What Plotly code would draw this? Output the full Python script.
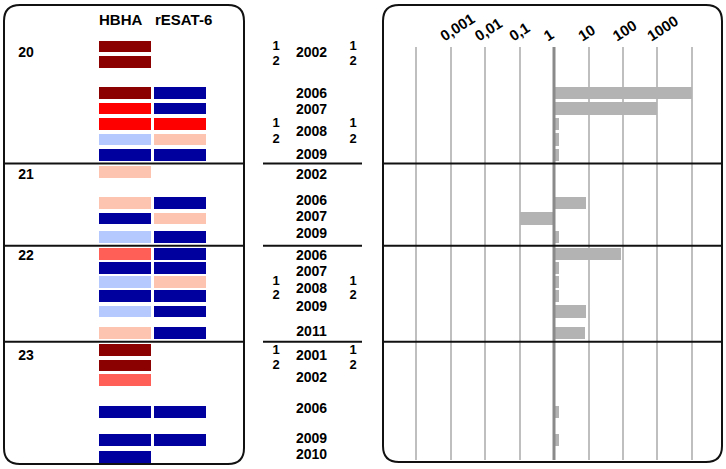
import plotly.graph_objects as go

W, H = 726, 469

# ---------------- data ----------------
row_group = ["20"] * 7 + ["21"] * 4 + ["22"] * 6 + ["23"] * 6
row_year = [2002, 2002, 2006, 2007, 2008, 2008, 2009,
            2002, 2006, 2007, 2009,
            2006, 2007, 2008, 2008, 2009, 2011,
            2001, 2001, 2002, 2006, 2009, 2010]
row_rep = [1, 2, None, None, 1, 2, None,
           None, None, None, None,
           None, None, 1, 2, None, None,
           1, 2, None, None, None, None]
# vertical row slot of each sample (rows are listed top to bottom)
row_pos = [0, 1, 3, 4, 5, 6, 7,
           8.1, 10.1, 11.1, 12.3,
           13.4, 14.3, 15.2, 16.1, 17.1, 18.5,
           19.6, 20.6, 21.5, 23.6, 25.4, 26.5]
hbha_level = ["DR", "DR", "DR", "R", "R", "LB", "DB",
              "P", "P", "DB", "LB",
              "LR", "DB", "LB", "DB", "LB", "P",
              "DR", "DR", "LR", "DB", "DB", "DB"]
resat_level = [None, None, "DB", "DB", "R", "P", "DB",
               None, "DB", "P", "DB",
               "DB", "DB", "P", "DB", "DB", "DB",
               None, None, None, "DB", "DB", None]
fold_change = [None, None, 10000, 1000, 1.4, 1.4, 1.4,
               None, 8.3, 0.1, 1.4,
               85, 1.4, 1.4, 1.4, 8.3, 8,
               None, None, None, 1.4, 1.4, None]
# year labels (one per group/year) and their slot
year_label_group = ["20"] * 5 + ["21"] * 4 + ["22"] * 5 + ["23"] * 5
year_label_text = ["2002", "2006", "2007", "2008", "2009",
                   "2002", "2006", "2007", "2009",
                   "2006", "2007", "2008", "2009", "2011",
                   "2001", "2002", "2006", "2009", "2010"]
year_label_pos = [0.45, 3.1, 4.12, 5.56, 7.03,
                  8.34, 10.03, 11.06, 12.16,
                  13.56, 14.58, 15.65, 16.84, 18.47,
                  19.97, 21.45, 23.45, 25.36, 26.38]
level_colors = {"DR": "#8b0000", "R": "#ff0000", "LR": "#ff5f56",
                "P": "#fdc4b0", "LB": "#b6c9ff", "DB": "#00009e"}
tick_values = [1e-4, 1e-3, 1e-2, 1e-1, 1, 10, 100, 1000, 1e4]
tick_labels = ["", "0,001", "0,01", "0,1", "1", "10", "100", "1000", ""]
columns = ["HBHA", "rESAT-6"]

FONT = "Liberation Sans, Arial, sans-serif"
n = len(row_pos)

fig = go.Figure()

# ---------------- left panel: coloured cells ----------------
fig.add_trace(go.Bar(
    y=row_pos, x=[1] * n, orientation="h", width=0.92,
    marker=dict(color=[level_colors[l] for l in hbha_level],
                line=dict(color="white", width=2.4)),
    xaxis="x", yaxis="y", name=columns[0], hoverinfo="skip"))
fig.add_trace(go.Bar(
    y=row_pos, x=[1 if l else None for l in resat_level], orientation="h", width=0.92,
    marker=dict(color=[level_colors[l] if l else "white" for l in resat_level],
                line=dict(color="white", width=2.4)),
    xaxis="x", yaxis="y", name=columns[1], hoverinfo="skip"))

# ---------------- middle: year / replicate labels ----------------
fig.add_trace(go.Scatter(
    x=[311.5] * len(year_label_text), y=year_label_pos, mode="text",
    text=year_label_text,
    textfont=dict(size=14, family=FONT, color="black", weight="bold"),
    xaxis="x2", yaxis="y", hoverinfo="skip"))
rep_pos = [p for p, r in zip(row_pos, row_rep) if r]
rep_txt = [str(r) for r in row_rep if r]
for xr in (276, 353):
    fig.add_trace(go.Scatter(
        x=[xr] * len(rep_pos), y=rep_pos, mode="text", text=rep_txt,
        textfont=dict(size=13, family=FONT, color="black", weight="bold"),
        xaxis="x2", yaxis="y", hoverinfo="skip"))

# group labels (at the first year label of each group)
groups = []
for g in row_group:
    if g not in groups:
        groups.append(g)
group_pos = [year_label_pos[year_label_group.index(g)] for g in groups]
fig.add_trace(go.Scatter(
    x=[26] * len(groups), y=group_pos, mode="text", text=groups,
    textfont=dict(size=14, family=FONT, color="black", weight="bold"),
    xaxis="x2", yaxis="y", hoverinfo="skip"))

# ---------------- right panel: fold-change bars ----------------
fig.add_trace(go.Bar(
    y=row_pos, x=[v - 1 if v else None for v in fold_change], base=[1] * n,
    orientation="h", width=0.8, marker=dict(color="#b3b3b3", line=dict(width=0)),
    xaxis="x3", yaxis="y2", hoverinfo="skip"))
y2_range = [26.68, 0.032]
fig.add_trace(go.Scatter(
    x=[1, 1], y=[y2_range[1], y2_range[0]], mode="lines",
    line=dict(color="#8a8a8a", width=3), xaxis="x3", yaxis="y2", hoverinfo="skip"))

# ---------------- decorations ----------------
def P(px, py):
    return f"{px / W:.5f},{1 - py / H:.5f}"

def rounded(x0, y0, x1, y1, r):
    return ("M " + P(x0 + r, y0) + " L " + P(x1 - r, y0) + " Q " + P(x1, y0) + " " + P(x1, y0 + r) +
            " L " + P(x1, y1 - r) + " Q " + P(x1, y1) + " " + P(x1 - r, y1) +
            " L " + P(x0 + r, y1) + " Q " + P(x0, y1) + " " + P(x0, y1 - r) +
            " L " + P(x0, y0 + r) + " Q " + P(x0, y0) + " " + P(x0 + r, y0) + " Z")

shapes = [
    dict(type="path", path=rounded(4, 5, 244, 464, 16), xref="paper", yref="paper",
         line=dict(color="#111111", width=2)),
    dict(type="path", path=rounded(383, 5, 722, 462, 16), xref="paper", yref="paper",
         line=dict(color="#111111", width=2)),
]
# separators between groups
for i in range(1, n):
    if row_group[i] != row_group[i - 1]:
        yb = (row_pos[i] + row_pos[i - 1]) / 2
        for xa, xb in ((4, 244), (263, 362), (383, 722)):
            shapes.append(dict(type="line", xref="paper", yref="y", x0=xa / W, x1=xb / W,
                               y0=yb, y1=yb, line=dict(color="#111111", width=2)))

annotations = [
    dict(text="<b>" + columns[0] + "</b>", x=120 / W, y=1 - 20 / H, xref="paper", yref="paper",
         xanchor="center", yanchor="middle",
         showarrow=False, font=dict(size=15, family=FONT, color="black")),
    dict(text="<b>" + columns[1] + "</b>", x=183 / W, y=1 - 20 / H, xref="paper", yref="paper",
         xanchor="center", yanchor="middle",
         showarrow=False, font=dict(size=15, family=FONT, color="black")),
]

fig.update_layout(
    width=W, height=H, margin=dict(l=0, r=0, t=0, b=0),
    paper_bgcolor="white", plot_bgcolor="rgba(0,0,0,0)", barmode="stack", showlegend=False,
    font=dict(family=FONT, color="black"),
    xaxis=dict(domain=[0, 1], range=[-1.773, 11.427], visible=False, anchor="y"),
    yaxis=dict(domain=[0, 1], range=[27.26, -3.0], visible=False, anchor="x"),
    xaxis2=dict(domain=[0, 1], range=[0, W], visible=False, anchor="y"),
    xaxis3=dict(domain=[383 / W, 722 / W], type="log", range=[-4.957, 4.87], side="top",
                anchor="y2", tickvals=tick_values, ticktext=tick_labels, tickangle=-33,
                ticklabelshift=-10, ticklabelstandoff=0,
                showgrid=True, gridcolor="#bfbfbf", gridwidth=2, showline=False,
                zeroline=False, ticks="", automargin=False,
                tickfont=dict(size=15, family=FONT, color="black", weight="bold")),
    yaxis2=dict(domain=[1 - 460 / H, 1 - 47 / H], range=y2_range, visible=False, anchor="x3"),
    shapes=shapes, annotations=annotations,
)

fig.write_html("out.html", config={"displayModeBar": False, "staticPlot": True},
               post_script="document.body.style.margin='0px';")
